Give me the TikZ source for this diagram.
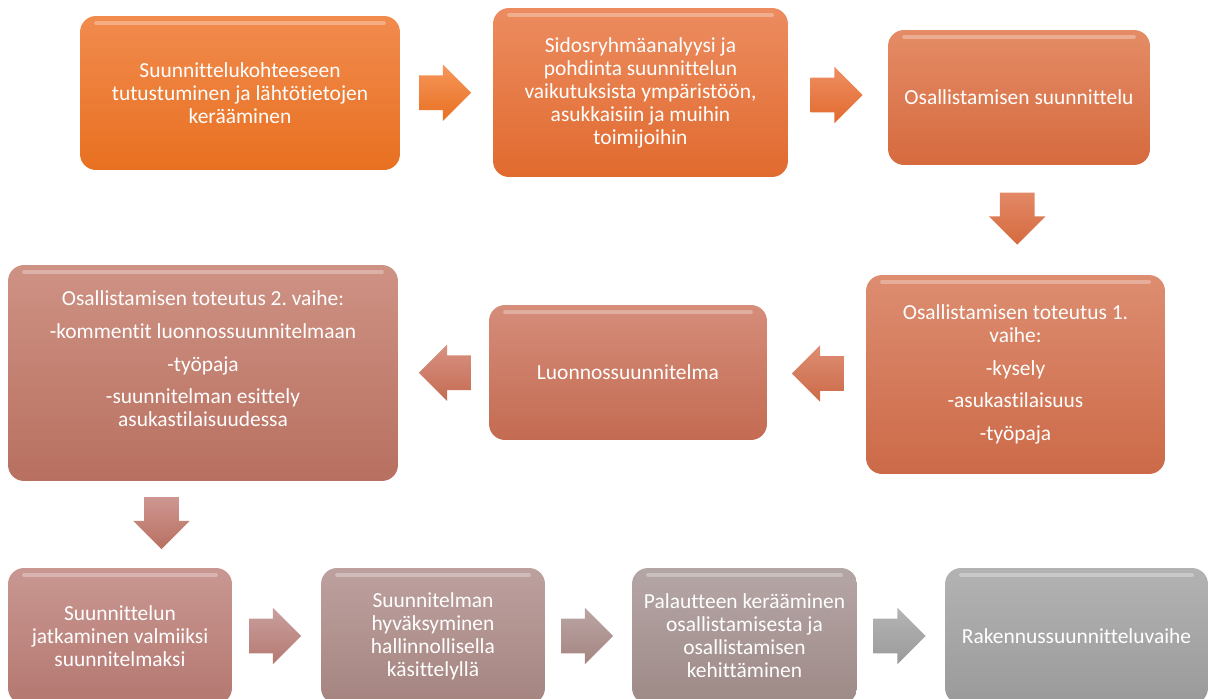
\documentclass[tikz,border=0pt]{standalone}
\usepackage{fontspec}
\setmainfont{Carlito}[Ligatures=NoCommon]
\frenchspacing
\usetikzlibrary{shapes.arrows,calc}

% box colours, top and bottom of the gradient
\definecolor{oneT}{RGB}{241,139,78}   \definecolor{oneB}{RGB}{232,112,32}
\definecolor{twoT}{RGB}{236,140,96}   \definecolor{twoB}{RGB}{225,106,46}
\definecolor{thrT}{RGB}{228,140,102}  \definecolor{thrB}{RGB}{214,106,62}
\definecolor{forT}{RGB}{221,141,112}  \definecolor{forB}{RGB}{204,106,72}
\definecolor{fivT}{RGB}{213,141,122}  \definecolor{fivB}{RGB}{196,107,82}
\definecolor{sixT}{RGB}{206,146,132}  \definecolor{sixB}{RGB}{184,112,96}
\definecolor{sevT}{RGB}{201,151,146}  \definecolor{sevB}{RGB}{180,120,112}
\definecolor{eigT}{RGB}{189,161,159}  \definecolor{eigB}{RGB}{165,132,128}
\definecolor{ninT}{RGB}{181,166,166}  \definecolor{ninB}{RGB}{158,138,135}
\definecolor{tenT}{RGB}{179,179,179}  \definecolor{tenB}{RGB}{154,154,154}

\tikzset{
  stage/.style={rounded corners=0.32cm, text=white, align=center, inner sep=4pt,
    font=\fontsize{12.2}{13.1}\selectfont,
    path picture={\draw[white,opacity=.3,line width=2pt,line cap=round]
      ([xshift=9pt,yshift=-4pt]path picture bounding box.north west) --
      ([xshift=-9pt,yshift=-4pt]path picture bounding box.north east);}},
  flow/.style={single arrow, single arrow head extend=0.22cm,
    minimum height=1.04cm, minimum width=1.12cm, inner sep=0.34cm},
  toright/.style={flow, xshift=-0.2cm},
  toleft/.style={flow, shape border rotate=180, xshift=0.2cm},
  todown/.style={flow, shape border rotate=270, yshift=0.2cm},
}

\begin{document}
\begin{tikzpicture}[x=0.02cm,y=-0.02cm]
\useasboundingbox (0,0) rectangle (1211,699);

% top row
\node[stage, top color=oneT, bottom color=oneB, minimum width=6.4cm, minimum height=3.08cm]
  (b1) at (240,93) {Suunnittelukohteeseen\\tutustuminen ja lähtötietojen\\kerääminen};
\node[stage, top color=twoT, bottom color=twoB, minimum width=5.9cm, minimum height=3.38cm]
  (b2) at (640.5,92.5) {Sidosryhmäanalyysi ja\\pohdinta suunnittelun\\vaikutuksista ympäristöön,\\asukkaisiin ja muihin\\toimijoihin};
\node[stage, top color=thrT, bottom color=thrB, minimum width=5.24cm, minimum height=2.7cm]
  (b3) at (1019,97.5) {Osallistamisen suunnittelu};

% middle row
\node[stage, top color=forT, bottom color=forB, minimum width=5.98cm, minimum height=3.98cm]
  (b4) at (1015.5,374.5) {Osallistamisen toteutus 1.\\vaihe:\\[5.5pt]-kysely\\[5.5pt]-asukastilaisuus\\[5.5pt]-työpaja};
\node[stage, top color=fivT, bottom color=fivB, minimum width=5.56cm, minimum height=2.7cm]
  (b5) at (628,372.5) {Luonnossuunnitelma};
\node[stage, top color=sixT, bottom color=sixB, minimum width=7.8cm, minimum height=4.32cm]
  (b6) at (203,373) {Osallistamisen toteutus 2. vaihe:\\[5.5pt]-kommentit luonnossuunnitelmaan\\[5.5pt]-työpaja\\[5.5pt]-suunnitelman esittely\\asukastilaisuudessa\\[3pt]~};

% bottom row
\node[stage, top color=sevT, bottom color=sevB, minimum width=4.48cm, minimum height=2.72cm]
  (b7) at (120,636) {Suunnittelun\\jatkaminen valmiiksi\\suunnitelmaksi};
\node[stage, top color=eigT, bottom color=eigB, minimum width=4.48cm, minimum height=2.72cm]
  (b8) at (433,636) {Suunnitelman\\hyväksyminen\\hallinnollisella\\käsittelyllä};
\node[stage, top color=ninT, bottom color=ninB, minimum width=4.5cm, minimum height=2.72cm]
  (b9) at (744.5,636) {Palautteen kerääminen\\osallistamisesta ja\\osallistamisen\\kehittäminen};
\node[stage, top color=tenT, bottom color=tenB, minimum width=5.26cm, minimum height=2.72cm]
  (b10) at (1076.5,636) {Rakennussuunnitteluvaihe};

% block arrows
\node[toright, top color={rgb,255:red,246;green,150;blue,92}, bottom color=oneB]
  (a1) at ($(b1.east)!.5!(b2.west)$) {};
\node[toright, top color={rgb,255:red,238;green,142;blue,98}, bottom color=twoB]
  (a2) at ($(b2.east)!.5!(b3.west)$) {};
\node[todown, top color={rgb,255:red,226;green,136;blue,102}, bottom color=thrB]
  (a3) at ($(b3.south)!.5!(b4.north)$) {};
\node[toleft, top color={rgb,255:red,222;green,142;blue,116}, bottom color=forB]
  (a4) at ($(b4.west)!.5!(b5.east)$) {};
\node[toleft, top color={rgb,255:red,216;green,146;blue,130}, bottom color=fivB]
  (a5) at ($(b5.west)!.5!(b6.east)$) {};
\node[todown, top color={rgb,255:red,206;green,150;blue,145}, bottom color=sixB]
  (a6) at ($(b6.south)!.5!(b7.north)$) {};
\node[toright, top color={rgb,255:red,201;green,160;blue,158}, bottom color=sevB]
  (a7) at ($(b7.east)!.5!(b8.west)$) {};
\node[toright, top color={rgb,255:red,186;green,166;blue,165}, bottom color=eigB]
  (a8) at ($(b8.east)!.5!(b9.west)$) {};
\node[toright, top color={rgb,255:red,182;green,180;blue,180}, bottom color=tenB]
  (a9) at ($(b9.east)!.5!(b10.west)$) {};
\end{tikzpicture}
\end{document}
